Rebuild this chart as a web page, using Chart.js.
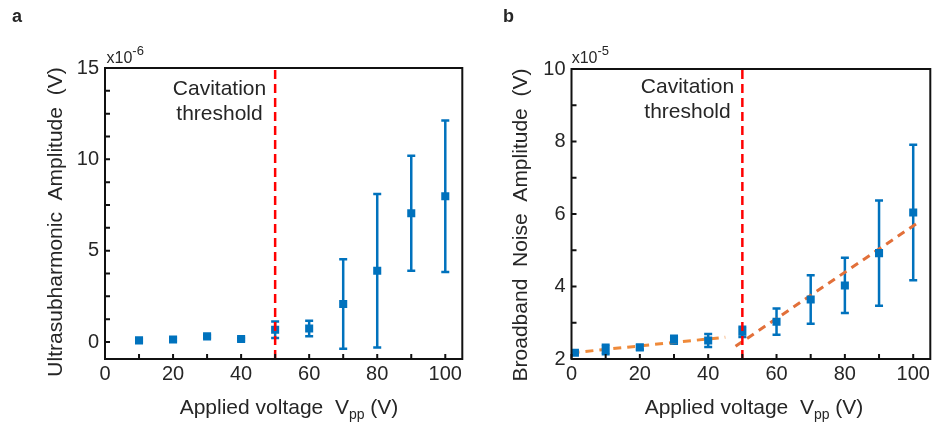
<!DOCTYPE html>
<html>
<head>
<meta charset="utf-8">
<script src="https://cdn.jsdelivr.net/npm/chart.js@4.4.1/dist/chart.umd.min.js"></script>
<style>
  html, body { margin: 0; padding: 0; background: #fff; }
  #wrap { position: relative; width: 936px; height: 423px; overflow: hidden; }
  .panel { position: absolute; top: 0; width: 468px; height: 423px; }
  #panelA { left: 0; }
  #panelB { left: 468px; }
</style>
</head>
<body>
<div id="wrap">
  <div class="panel" id="panelA"><canvas id="chartA"></canvas></div>
  <div class="panel" id="panelB"><canvas id="chartB"></canvas></div>
</div>
<script>
  // panel a: ultrasubharmonic amplitude (x1e-6 V)
  var voltageA = [10, 20, 30, 40, 50, 60, 70, 80, 90, 100];
  var ampA = [0.09, 0.14, 0.31, 0.16, 0.67, 0.74, 2.08, 3.9, 7.05, 7.98];
  var errA = [0.08, 0.08, 0.08, 0.08, 0.45, 0.42, 2.45, 4.2, 3.15, 4.15];

  // panel b: broadband noise amplitude (x1e-5 V)
  var voltageB = [1, 10, 20, 30, 40, 50, 60, 70, 80, 90, 100];
  var ampB = [2.17, 2.26, 2.32, 2.53, 2.51, 2.75, 3.03, 3.64, 4.03, 4.92, 6.04];
  var errB = [0.04, 0.13, 0.06, 0.11, 0.18, 0.14, 0.36, 0.67, 0.76, 1.45, 1.87];

  // dashed linear fits in panel b
  var fitLowX = [0, 45];
  var fitLowY = [2.17, 2.6];
  var fitHighX = [48, 102];
  var fitHighY = [2.35, 5.8];

  var thresholdV = 50;

  var xTicks = [0, 10, 20, 30, 40, 50, 60, 70, 80, 90, 100];
  var xLabels = [0, 20, 40, 60, 80, 100];
  var yTicksA = [0, 1.25, 2.5, 3.75, 5, 6.25, 7.5, 8.75, 10, 11.25, 12.5, 13.75, 15];
  var yLabelsA = [0, 5, 10, 15];
  var yTicksB = [2, 3, 4, 5, 6, 7, 8, 9, 10];
  var yLabelsB = [2, 4, 6, 8, 10];

  var FONT = "'Liberation Sans', Arial, sans-serif";
  var TEXT = '#262626';
  var BLUE = '#0072BD';

  function toPoints(xs, ys) {
    var out = [];
    for (var i = 0; i < xs.length; i++) out.push({ x: xs[i], y: ys[i] });
    return out;
  }

  function makeDecor(cfg) {
    return {
      id: 'panelDecor',
      beforeDatasetsDraw: function(chart) {
        var ctx = chart.ctx;
        var xs = chart.scales.x, ys = chart.scales.y;
        ctx.save();
        ctx.strokeStyle = BLUE;
        ctx.lineWidth = 2.5;
        for (var i = 0; i < cfg.errX.length; i++) {
          var px = xs.getPixelForValue(cfg.errX[i]);
          var hi = ys.getPixelForValue(cfg.errY[i] + cfg.err[i]);
          var lo = ys.getPixelForValue(cfg.errY[i] - cfg.err[i]);
          ctx.beginPath();
          ctx.moveTo(px, hi); ctx.lineTo(px, lo);
          ctx.moveTo(px - 4, hi); ctx.lineTo(px + 4, hi);
          ctx.moveTo(px - 4, lo); ctx.lineTo(px + 4, lo);
          ctx.stroke();
        }
        ctx.restore();
      },
      afterDraw: function(chart) {
        var ctx = chart.ctx;
        var a = chart.chartArea;
        var xs = chart.scales.x, ys = chart.scales.y;
        ctx.save();
        // inward tick marks
        ctx.strokeStyle = '#111';
        ctx.lineWidth = 2;
        ctx.beginPath();
        xs.ticks.forEach(function(t) {
          var p = xs.getPixelForValue(t.value);
          ctx.moveTo(p, a.bottom); ctx.lineTo(p, a.bottom - 5);
        });
        ys.ticks.forEach(function(t) {
          var p = ys.getPixelForValue(t.value);
          ctx.moveTo(a.left, p); ctx.lineTo(a.left + 5, p);
        });
        ctx.stroke();
        // box
        ctx.strokeRect(a.left, a.top, a.right - a.left, a.bottom - a.top);

        ctx.fillStyle = TEXT;
        ctx.textBaseline = 'alphabetic';

        // panel letter
        ctx.font = 'bold 18px ' + FONT;
        ctx.textAlign = 'left';
        ctx.fillText(cfg.letter, cfg.letterX, 22);

        // multiplier
        ctx.font = '16px ' + FONT;
        ctx.fillText('x10', cfg.multX, 62.5);
        var w = ctx.measureText('x10').width;
        ctx.font = '13px ' + FONT;
        ctx.fillText(cfg.multExp, cfg.multX + w, 55);

        // threshold label
        ctx.font = '21px ' + FONT;
        ctx.textAlign = 'center';
        ctx.fillText('Cavitation', cfg.thrX, cfg.thrY);
        ctx.fillText('threshold', cfg.thrX, cfg.thrY + 25);

        // x title with subscript
        var big = '21px ' + FONT, small = '14px ' + FONT;
        var p1 = 'Applied voltage  V', p2 = 'pp', p3 = ' (V)';
        ctx.font = big; var w1 = ctx.measureText(p1).width, w3 = ctx.measureText(p3).width;
        ctx.font = small; var w2 = ctx.measureText(p2).width;
        var x0 = cfg.xTitleX - (w1 + w2 + w3) / 2;
        ctx.textAlign = 'left';
        ctx.font = big; ctx.fillText(p1, x0, 414);
        ctx.font = small; ctx.fillText(p2, x0 + w1, 419);
        ctx.font = big; ctx.fillText(p3, x0 + w1 + w2, 414);

        // y title
        ctx.translate(cfg.yTitleX, cfg.yTitleY);
        ctx.rotate(-Math.PI / 2);
        ctx.font = big;
        ctx.textAlign = 'center';
        ctx.textBaseline = 'middle';
        ctx.fillText(cfg.yTitle, 0, 0);
        ctx.restore();
      }
    };
  }

  function makeChart(id, opts) {
    var datasets = [{
      data: [{ x: thresholdV, y: opts.yMin }, { x: thresholdV, y: opts.yMax }],
      showLine: true,
      borderColor: '#FF0000',
      borderWidth: 2.5,
      borderDash: [9, 5],
      pointRadius: 0
    }, {
      data: toPoints(opts.xs, opts.ys),
      pointStyle: 'rect',
      pointRadius: 5.7,
      backgroundColor: BLUE,
      borderColor: BLUE,
      borderWidth: 0,
      showLine: false
    }].concat(opts.extra || []);

    return new Chart(document.getElementById(id), {
      type: 'scatter',
      data: { datasets: datasets },
      options: {
        responsive: true,
        maintainAspectRatio: false,
        animation: false,
        layout: { padding: opts.padding },
        plugins: { legend: { display: false }, tooltip: { enabled: false } },
        scales: {
          x: {
            type: 'linear', min: 0, max: 105,
            grid: { display: false, drawTicks: false },
            border: { display: false },
            afterBuildTicks: function(s) { s.ticks = xTicks.map(function(v) { return { value: v }; }); },
            afterFit: function(s) { s.height = 64; },
            ticks: {
              autoSkip: false, maxRotation: 0, padding: 3, color: TEXT,
              font: { family: FONT, size: 20 },
              callback: function(v) { return xLabels.indexOf(v) >= 0 ? String(v) : ''; }
            }
          },
          y: {
            type: 'linear', min: opts.yMin, max: opts.yMax,
            grid: { display: false, drawTicks: false },
            border: { display: false },
            afterBuildTicks: function(s) { s.ticks = opts.yTicks.map(function(v) { return { value: v }; }); },
            afterFit: function(s) { s.width = opts.yWidth; },
            ticks: {
              autoSkip: false, padding: 6, color: TEXT,
              font: { family: FONT, size: 20 },
              callback: function(v) { return opts.yLabels.indexOf(v) >= 0 ? String(v) : ''; }
            }
          }
        }
      },
      plugins: [makeDecor(opts.decor)]
    });
  }

  makeChart('chartA', {
    xs: voltageA, ys: ampA,
    yMin: -0.93, yMax: 15,
    yTicks: yTicksA, yLabels: yLabelsA,
    yWidth: 105,
    padding: { top: 68, right: 3, left: 0, bottom: 0 },
    decor: {
      errX: voltageA, errY: ampA, err: errA,
      letter: 'a', letterX: 12, multX: 106.5, multExp: '-6',
      thrX: 219.5, thrY: 95,
      xTitleX: 289, yTitleX: 56, yTitleY: 222,
      yTitle: 'Ultrasubharmonic  Amplitude  (V)'
    }
  });

  makeChart('chartB', {
    xs: voltageB, ys: ampB,
    yMin: 2, yMax: 10,
    yTicks: yTicksB, yLabels: yLabelsB,
    yWidth: 103.5,
    padding: { top: 69, right: 4, left: 0, bottom: 0 },
    extra: [{
      data: toPoints(fitLowX, fitLowY),
      showLine: true, borderColor: '#EF8A3A', borderWidth: 3,
      borderDash: [8, 6], pointRadius: 0
    }, {
      data: toPoints(fitHighX, fitHighY),
      showLine: true, borderColor: '#E2703A', borderWidth: 3,
      borderDash: [8, 6], pointRadius: 0
    }],
    decor: {
      errX: voltageB, errY: ampB, err: errB,
      letter: 'b', letterX: 35, multX: 103.7, multExp: '-5',
      thrX: 219.5, thrY: 93,
      xTitleX: 286, yTitleX: 53, yTitleY: 225,
      yTitle: 'Broadband  Noise  Amplitude  (V)'
    }
  });
</script>
</body>
</html>
